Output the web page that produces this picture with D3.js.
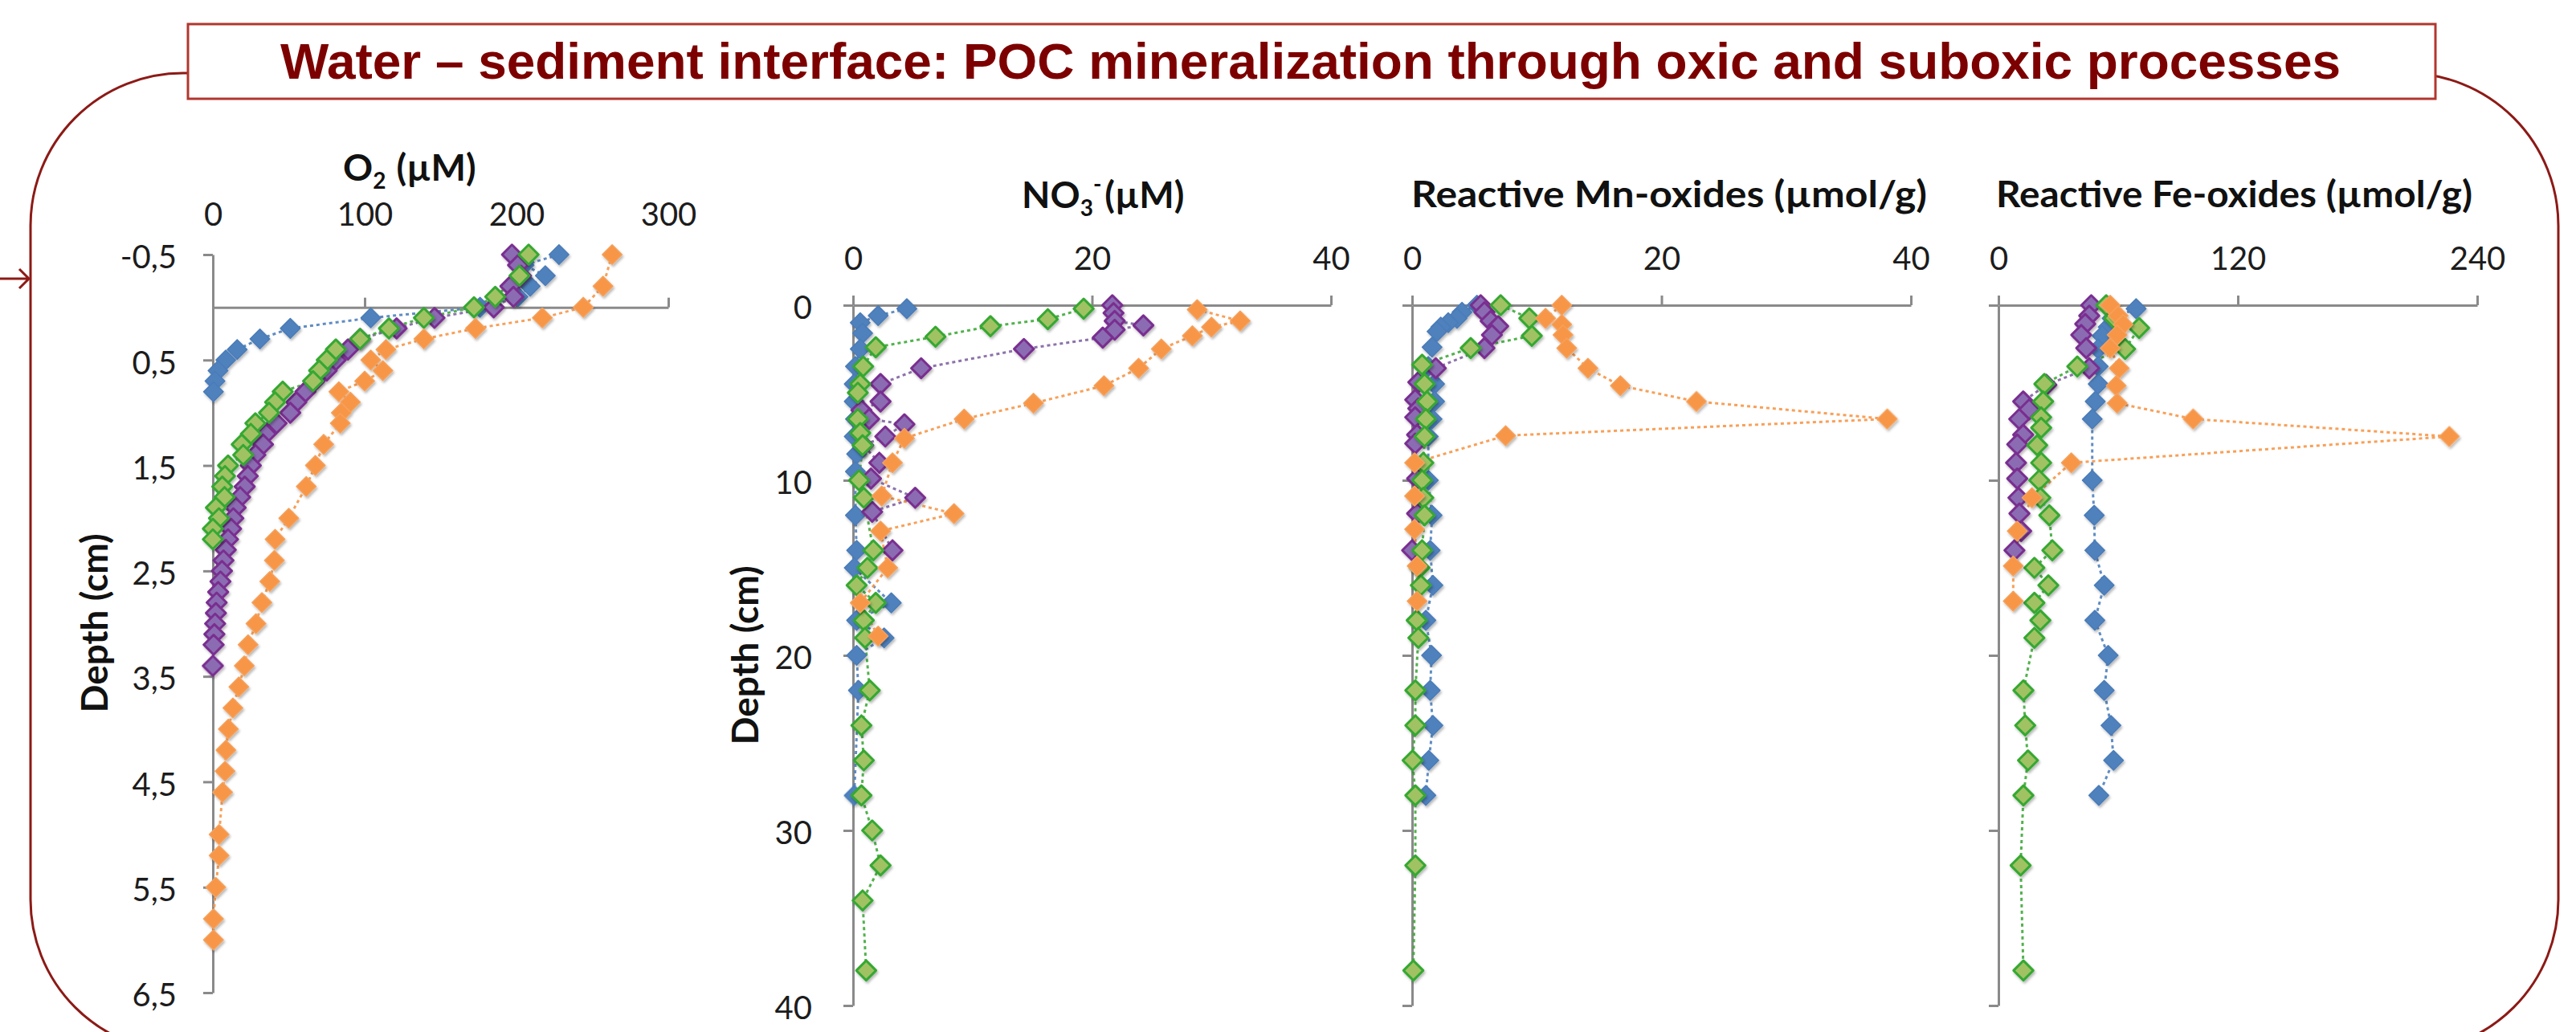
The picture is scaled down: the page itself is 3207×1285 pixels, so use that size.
<!DOCTYPE html>
<html><head><meta charset="utf-8">
<script src="https://cdn.jsdelivr.net/npm/d3@7"></script>
<style>
body{margin:0;background:#fff}
svg{display:block}
</style>
</head><body>
<svg id="chart" width="3207" height="1285"></svg>
<script>
// ---------------- DATA ----------------
const mainTitle = "Water \u2013 sediment interface: POC mineralization through oxic and suboxic processes";
const seriesNames = ["blue", "purple", "green", "orange"];

// O2 (µM) vs depth (cm)
const o2BlueDepth   = [-0.5,-0.4,-0.3,-0.2,-0.1,0,0.1,0.2,0.3,0.4,0.5,0.6,0.7,0.8];
const o2Blue        = [228,205,219,209,201,176,104,51,31,16,8.5,3.4,1.4,0.4];
const o2PurpleDepth = [-0.5,-0.4,-0.3,-0.2,-0.1,0,0.1,0.2,0.3,0.4,0.5,0.6,0.7,0.8,0.9,1.0,1.1,1.2,1.3,1.4,1.5,1.6,1.7,1.8,1.9,2.0,2.1,2.2,2.3,2.4,2.5,2.6,2.7,2.8,2.9,3.0,3.1,3.2,3.4];
const o2Purple      = [197,201,203,196,198,185,146,121,97,89,81,75,67,61,55,51,42,35,33,28,25,23,21,18,15,13.5,12,10,8.5,7,6,5,3.5,2.5,2,1.5,1,0.5,0];
const o2GreenDepth  = [-0.5,-0.3,-0.1,0,0.1,0.2,0.3,0.4,0.5,0.6,0.7,0.8,0.9,1.0,1.1,1.2,1.3,1.4,1.5,1.6,1.7,1.8,1.9,2.0,2.1,2.2];
const o2Green       = [208,202,186,172,139,116,97,81,75,70,66,46,41,37,28,25,19,20,10,8,6.2,7.7,2,4,0,0];
const o2OrangeDepth = [-0.5,-0.2,0,0.1,0.2,0.3,0.4,0.5,0.6,0.7,0.8,0.9,1.0,1.1,1.3,1.5,1.7,2.0,2.2,2.4,2.6,2.8,3.0,3.2,3.4,3.6,3.8,4.0,4.2,4.4,4.6,5.0,5.2,5.5,5.8,6.0];
const o2Orange      = [263,257,244,217,173,139,114,104,112,100,83,90.6,84.6,83.9,73,67.5,61.5,50,41,40.5,37.5,32.3,28.4,23.2,20.7,17.1,13.2,10.2,8.6,8.0,6.4,4.1,4.1,1.9,0.4,0.4];

// NO3- (µM)
const no3BlueDepth   = [0.2,0.6,1.0,1.6,2.5,3.5,4.5,5.5,6.5,7.5,8.5,9.5,12,14,15,17,18,19,20,22,28];
const no3Blue        = [4.5,2.1,0.6,0.8,0.6,0.2,0.1,0.1,0.2,0.1,0.3,0.2,0.2,0.3,0.1,3.2,0.3,2.6,0.3,0.45,0.1];
const no3PurpleDepth = [0,0.45,0.9,1.15,1.4,1.85,2.5,3.6,4.5,5.5,6.0,6.5,6.8,7.5,8.0,9.0,9.9,11.0,11.8,14.0];
const no3Purple      = [21.7,21.8,21.9,24.3,21.9,20.9,14.3,5.7,2.3,2.3,0.7,1.35,4.3,2.7,0.85,2.2,1.5,5.2,1.6,3.3];
const no3GreenDepth  = [0.2,0.8,1.2,1.8,2.4,3.5,4.5,5.0,6.5,7.3,8.0,10.0,11.0,14.0,15.0,16.0,17.0,18.0,19.0,22,24,26,28,30,32,34,38];
const no3Green       = [19.3,16.3,11.5,6.9,1.9,0.85,0.6,0.4,0.4,0.6,0.8,0.5,0.9,1.7,1.2,0.3,1.9,0.9,1.0,1.4,0.7,0.9,0.7,1.6,2.3,0.8,1.1];
const no3OrangeDepth = [0.25,0.9,1.25,1.75,2.5,3.6,4.6,5.6,6.5,7.6,9.0,10.9,11.9,12.9,15.0,17.0,18.9];
const no3Orange      = [28.8,32.4,30.0,28.4,25.8,23.9,21.0,15.1,9.3,4.3,3.3,2.4,8.45,2.3,2.9,0.6,2.1];

// Reactive Mn-oxides (µmol/g)
const mnBlueDepth   = [0,0.4,0.75,1.0,1.25,1.5,2.4,3.5,4.5,5.5,6.5,7.5,10,12,14,16,18,20,22,24,26,28];
const mnBlue        = [5.2,4.0,3.6,2.9,2.3,2.0,1.6,1.3,1.8,1.8,1.6,1.3,1.3,1.6,1.45,1.67,1.1,1.56,1.45,1.67,1.34,1.1];
const mnPurpleDepth = [0,0.4,0.9,1.2,1.7,2.45,3.6,4.4,5.4,5.9,6.4,7.4,7.9,9.9,11.9,14];
const mnPurple      = [5.5,5.8,6.3,6.9,6.4,5.8,1.9,0.5,0.25,0.5,0.25,0.4,0.25,0.4,0.4,0];
const mnGreenDepth  = [0,0.75,1.75,2.45,3.4,4.5,5.5,6.5,7.5,9,10,11,12,14,15,16,18,19,22,24,26,28,32,38];
const mnGreen       = [7.1,9.4,9.6,4.7,0.8,1.0,1.2,1.1,1.0,0.9,0.8,0.9,1.0,0.8,0.6,0.7,0.37,0.5,0.26,0.26,0.04,0.26,0.26,0.1];
const mnOrangeDepth = [0,0.75,1.1,1.7,2.45,3.6,4.6,5.5,6.5,7.45,9,10.9,12.8,14.9,16.9];
const mnOrange      = [12.0,10.7,12.0,12.1,12.4,14.1,16.7,22.8,38.1,7.5,0.2,0.2,0.2,0.4,0.4];

// Reactive Fe-oxides (µmol/g)
const feBlueDepth   = [0.2,0.75,1.25,1.75,2.5,3.5,4.5,5.5,6.5,10,12,14,16,18,20,22,24,26,28];
const feBlue        = [69,57,55,52,50,50,50,48.5,47,47,48,48.3,53,48.3,55,53,56.4,57.7,50.3];
const fePurpleDepth = [0,0.6,1.07,1.7,2.45,3.6,4.55,5.5,5.95,6.5,7.4,7.95,9,9.9,11,11.9,12.9,14];
const fePurple      = [46.5,45.5,43.5,41.5,44,45.5,24,12.4,15.4,10.4,12.4,9.4,8.8,9.4,10,10.5,11.4,8];
const feGreenDepth  = [0,0.75,1.3,2.5,3.5,4.5,5.5,6.4,7.0,8.0,9.0,10,11,12,14,15,16,17,18,19,22,24,26,28,32,38];
const feGreen       = [54,58,70.5,63.5,39.5,23,22.4,21.4,21.4,19.4,21.4,20.4,21,25.5,27,18,25,18,21,18,12.5,13.4,14.8,12.5,11.1,12.5];
const feOrangeDepth = [0,0.6,1.1,1.7,2.45,3.6,4.6,5.6,6.5,7.5,9,11,12.9,14.9,16.9];
const feOrange      = [56,60,62.5,59.5,56,60.5,59,59.5,97.6,226,36.5,16.8,9.4,7.4,7.4];

// Axis ticks
const o2XTicks = [0,100,200,300];
const o2YTicks = [-0.5,0.5,1.5,2.5,3.5,4.5,5.5,6.5];
const no3XTicks = [0,20,40];
const mnXTicks = [0,20,40];
const feXTicks = [0,120,240];
const depthTicks = [0,10,20,30,40];

// ---------------- STYLE ----------------
const STY = {
  blue:   {fill:"#4F81BD", stroke:"#4A7CB8", sw:1.5, line:"#4F81BD"},
  purple: {fill:"#8B6CB2", stroke:"#7A2F90", sw:3,   line:"#8064A2"},
  green:  {fill:"#A0C264", stroke:"#36A832", sw:3,   line:"#3FAA3A"},
  orange: {fill:"#F79646", stroke:"#F6A15C", sw:1.5, line:"#F79646"}
};
const AXIS_COLOR = "#8A8A8A";
const DARK_RED = "#8C1A16";

const svg = d3.select("#chart");
const defs = svg.append("defs");
const f = defs.append("filter").attr("id","sh").attr("x","-20%").attr("y","-20%").attr("width","140%").attr("height","140%");
f.append("feDropShadow").attr("dx",1.5).attr("dy",2.5).attr("stdDeviation",1.8).attr("flood-color","#000").attr("flood-opacity",0.28);

// ---------------- FRAME ----------------
svg.append("rect").attr("x",38).attr("y",91).attr("width",3185-38).attr("height",1310-91)
  .attr("rx",190).attr("ry",190).attr("fill","none").attr("stroke",DARK_RED).attr("stroke-width",3);
svg.append("path").attr("d","M0,347 L36,347 M24,335 L36,347 L24,359")
  .attr("fill","none").attr("stroke",DARK_RED).attr("stroke-width",3);
svg.append("rect").attr("x",234).attr("y",30).attr("width",3032-234).attr("height",93)
  .attr("fill","#fff").attr("stroke","#B2362F").attr("stroke-width",3);
svg.append("text").attr("x",349).attr("y",98)
  .attr("font-family","'Liberation Sans', Arial, sans-serif").attr("font-weight","bold")
  .attr("font-size",63).attr("fill","#7D0000")
  .attr("textLength",2565).attr("lengthAdjust","spacingAndGlyphs")
  .text(mainTitle);

// ---------------- PANELS ----------------
function zip(d, v){ return d.map((dd,i)=>({depth:dd, val:v[i]})); }

const panels = [
  {xDom:[0,300], xRange:[265,832], yDom:[-0.5,6.5], yRange:[317,1236], xTicks:o2XTicks, yTicks:o2YTicks,
   xAxisAt:0, xLabelPad:90, yLabels:true, yFmt:d=>d.toFixed(1).replace(".",",").replace("-","-"), yPad:33,
   depthLabel:{x:118,y:776},
   title:{x:427,y:225,parts:[["O",0],["2",1],[" (\u00b5M)",0]]},
   series:{blue:zip(o2BlueDepth,o2Blue),purple:zip(o2PurpleDepth,o2Purple),green:zip(o2GreenDepth,o2Green),orange:zip(o2OrangeDepth,o2Orange)}},
  {xDom:[0,40], xRange:[1062,1657], yDom:[0,40], yRange:[380,1252], xTicks:no3XTicks, yTicks:depthTicks,
   xAxisAt:0, xLabelPad:32, yLabels:true, yFmt:d=>String(d), yPad:39,
   depthLabel:{x:928,y:816},
   title:{x:1272,y:259,parts:[["NO",0],["3",1],["-",2],(["(\u00b5M)",0])]},
   series:{blue:zip(no3BlueDepth,no3Blue),purple:zip(no3PurpleDepth,no3Purple),green:zip(no3GreenDepth,no3Green),orange:zip(no3OrangeDepth,no3Orange)}},
  {xDom:[0,40], xRange:[1758,2379], yDom:[0,40], yRange:[380,1252], xTicks:mnXTicks, yTicks:depthTicks,
   xAxisAt:0, xLabelPad:32, yLabels:false, yPad:39,
   title:{x:1757,y:258,parts:[["Reactive Mn-oxides (\u00b5mol/g)",0]],len:642},
   series:{blue:zip(mnBlueDepth,mnBlue),purple:zip(mnPurpleDepth,mnPurple),green:zip(mnGreenDepth,mnGreen),orange:zip(mnOrangeDepth,mnOrange)}},
  {xDom:[0,240], xRange:[2488,3084], yDom:[0,40], yRange:[380,1252], xTicks:feXTicks, yTicks:depthTicks,
   xAxisAt:0, xLabelPad:32, yLabels:false, yPad:39,
   title:{x:2485,y:258,parts:[["Reactive Fe-oxides (\u00b5mol/g)",0]],len:593},
   series:{blue:zip(feBlueDepth,feBlue),purple:zip(fePurpleDepth,fePurple),green:zip(feGreenDepth,feGreen),orange:zip(feOrangeDepth,feOrange)}}
];

const FONT = "Lato, 'Open Sans', sans-serif";

panels.forEach(p => {
  const x = d3.scaleLinear().domain(p.xDom).range(p.xRange);
  const y = d3.scaleLinear().domain(p.yDom).range(p.yRange);
  const g = svg.append("g");

  // y axis
  const yAxis = d3.axisLeft(y).tickValues(p.yTicks).tickSize(12).tickSizeOuter(0).tickPadding(p.yPad)
    .tickFormat(p.yLabels ? p.yFmt : () => "");
  const ya = g.append("g").attr("transform",`translate(${p.xRange[0]},0)`).call(yAxis);
  // x axis (top)
  const xAxis = d3.axisTop(x).tickValues(p.xTicks).tickSize(12).tickSizeOuter(0).tickPadding(p.xLabelPad);
  const xa = g.append("g").attr("transform",`translate(0,${y(p.xAxisAt)})`).call(xAxis);

  [ya, xa].forEach(a => {
    a.select(".domain").attr("stroke",AXIS_COLOR).attr("stroke-width",3);
    a.selectAll(".tick line").attr("stroke",AXIS_COLOR).attr("stroke-width",3);
    a.selectAll(".tick text").attr("fill","#1c1c1c").attr("font-family",FONT).attr("font-size",40);
  });
  ya.selectAll(".tick text").attr("dy","0.42em");
  xa.selectAll(".tick text").attr("dy","0");

  // title
  const t = g.append("text").attr("x",p.title.x).attr("y",p.title.y)
    .attr("font-family",FONT).attr("font-weight","bold").attr("font-size",46).attr("fill","#111");
  if (p.title.len) t.attr("textLength",p.title.len).attr("lengthAdjust","spacingAndGlyphs");
  p.title.parts.forEach(([s,k]) => {
    const ts = t.append("tspan").text(s);
    if (k===1) ts.attr("font-size",28).attr("dy",10);
    if (k===2) ts.attr("font-size",28).attr("dy",-30);
    if (k===0 && s.startsWith(" (")) ts.attr("dy",-10).attr("dx",2);
    if (k===0 && s.startsWith("(")) ts.attr("dy",20).attr("dx",4);
  });

  if (p.depthLabel) {
    g.append("text").attr("transform",`translate(${p.depthLabel.x},${p.depthLabel.y}) rotate(-90)`)
      .attr("text-anchor","middle").attr("dy","0.35em")
      .attr("font-family",FONT).attr("font-weight","bold").attr("font-size",46).attr("fill","#111")
      .text("Depth (cm)");
  }

  // lines
  const line = d3.line().x(d=>x(d.val)).y(d=>y(d.depth));
  seriesNames.forEach(s => {
    g.append("path").datum(p.series[s]).attr("d",line).attr("fill","none")
      .attr("stroke",STY[s].line).attr("stroke-width",3).attr("stroke-dasharray","4,4").attr("opacity",0.9);
  });
  // markers
  const sym = d3.symbol().type(d3.symbolSquare).size(300);
  seriesNames.forEach(s => {
    const mg = g.append("g").attr("filter","url(#sh)");
    mg.selectAll("path").data(p.series[s]).join("path")
      .attr("d",sym)
      .attr("transform",d=>`translate(${x(d.val)},${y(d.depth)}) rotate(45)`)
      .attr("fill",STY[s].fill).attr("stroke",STY[s].stroke).attr("stroke-width",STY[s].sw)
      .attr("stroke-linejoin","round");
  });
});
</script>
</body></html>
